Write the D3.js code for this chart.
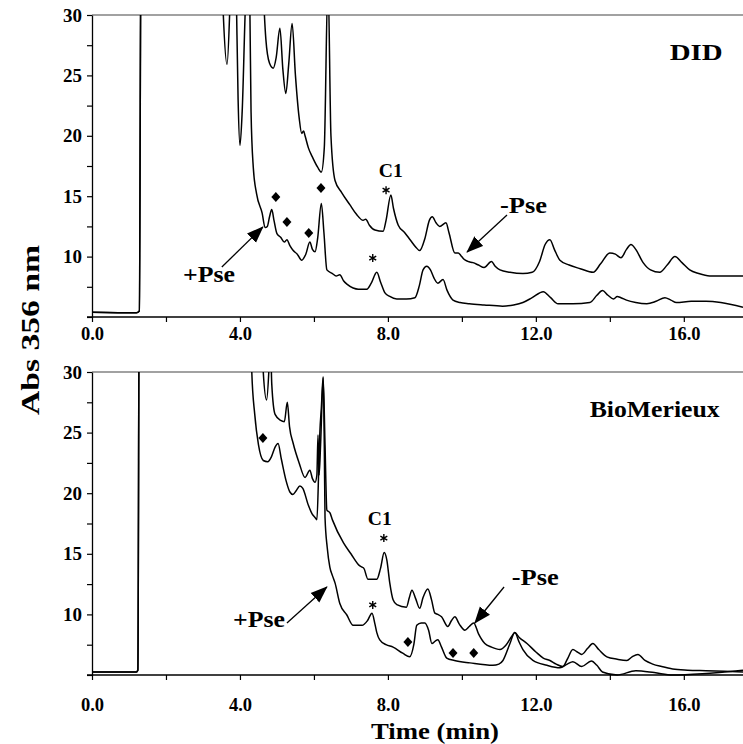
<!DOCTYPE html>
<html><head><meta charset="utf-8">
<script src="https://cdn.jsdelivr.net/npm/d3@7"></script>
<style>
body{margin:0;background:#fff}
svg text{font-family:"Liberation Serif","Times New Roman",serif;font-weight:bold;fill:#000}
</style>
</head><body><svg id="chart" width="743" height="744"></svg>
<script>
// ---------- data ----------
const timeDomain = [0, 17.6];
const absDomain = [5, 30];
const xTickValues = [0, 2, 4, 6, 8, 10, 12, 14, 16];
const xTickLabels = ["0.0", "", "4.0", "", "8.0", "", "12.0", "", "16.0"];
const yTickValues = [5, 7.5, 10, 12.5, 15, 17.5, 20, 22.5, 25, 27.5, 30];
const yTickLabels = ["", "", "10", "", "15", "", "20", "", "25", "", "30"];

// DID panel, -Pse trace [time (min), Abs]
const didMinusPse = [[0,5.4],[1.2,5.35],[1.28,5.5],[1.33,40],[3.45,40],[3.55,30],[3.65,25.9],[3.72,30],[3.8,40],[4.55,40],[4.62,33],[4.7,28],[4.8,26],[4.9,25.6],[4.98,26.5],[5.08,28.9],[5.16,25.5],[5.24,23.5],[5.32,26],[5.41,29.3],[5.5,25],[5.6,21.5],[5.67,20.2],[5.72,20.4],[5.76,20.0],[5.85,19.0],[5.95,18.3],[6.1,17.4],[6.2,17.0],[6.28,19],[6.38,33],[6.46,20],[6.57,16.3],[6.75,15.3],[6.97,14.3],[7.15,13.5],[7.33,13.0],[7.4,13.1],[7.5,12.6],[7.65,12.2],[7.87,12.1],[7.95,13],[8.08,15.1],[8.15,14],[8.28,12.6],[8.45,12.0],[8.6,11.4],[8.75,10.8],[8.86,10.5],[9.0,11.5],[9.12,13.0],[9.2,13.3],[9.3,12.8],[9.4,12.5],[9.57,12.8],[9.65,12],[9.81,10.3],[9.9,10.3],[9.97,10.1],[10.05,9.8],[10.16,9.6],[10.3,9.5],[10.45,9.3],[10.6,9.1],[10.8,9.6],[10.9,9.2],[11.03,8.9],[11.3,8.7],[11.65,8.6],[11.9,8.7],[12.1,9.6],[12.25,11.0],[12.38,11.4],[12.5,10.6],[12.65,9.7],[12.9,9.3],[13.2,9.0],[13.55,8.7],[13.75,9.4],[14.0,10.3],[14.15,10.2],[14.3,9.9],[14.45,10.6],[14.57,11.0],[14.7,10.6],[14.9,9.5],[15.1,8.9],[15.35,8.7],[15.55,9.3],[15.76,10.0],[15.95,9.5],[16.16,8.9],[16.4,8.6],[16.7,8.4],[17.6,8.4]];

// DID panel, +Pse trace
const didPlusPse = [[0,5.4],[1.2,5.35],[1.28,5.5],[1.33,40],[3.85,40],[3.9,32],[3.95,23],[4.0,19.2],[4.06,22],[4.15,31],[4.22,35],[4.27,30],[4.3,22],[4.36,17.4],[4.45,15.2],[4.6,13.6],[4.68,12.4],[4.74,12.5],[4.8,13.3],[4.86,13.9],[4.92,13.0],[5.0,11.9],[5.1,11.6],[5.2,11.2],[5.27,11.4],[5.35,10.9],[5.44,10.5],[5.55,10.2],[5.67,9.7],[5.78,10.2],[5.89,11.2],[5.96,10.6],[6.03,10.4],[6.1,11.5],[6.2,14.4],[6.27,12],[6.35,8.9],[6.5,8.6],[6.6,8.4],[6.7,8.5],[6.8,8.0],[6.9,7.7],[7.06,7.4],[7.2,7.3],[7.43,7.3],[7.55,7.8],[7.7,8.7],[7.8,7.9],[7.92,7.0],[8.05,6.7],[8.24,6.5],[8.5,6.5],[8.73,6.6],[8.85,7.6],[8.95,8.9],[9.05,9.2],[9.15,8.9],[9.25,8.2],[9.35,7.8],[9.49,8.1],[9.6,7.2],[9.76,6.4],[9.95,6.2],[10.2,6.1],[10.6,6.0],[11.1,5.9],[11.4,6.0],[11.65,6.2],[11.9,6.6],[12.2,7.1],[12.4,6.6],[12.6,6.1],[13.0,6.1],[13.46,6.2],[13.65,6.8],[13.8,7.2],[13.95,6.8],[14.1,6.5],[14.2,6.7],[14.3,6.6],[14.45,6.4],[14.7,6.2],[15.0,6.1],[15.25,6.3],[15.49,6.6],[15.65,6.4],[15.8,6.2],[16.2,6.3],[16.6,6.3],[17.0,6.2],[17.6,5.8]];

// BioMerieux panel, -Pse trace
const bioMinusPse = [[0,5.25],[1.2,5.25],[1.24,5.4],[1.28,40],[4.55,40],[4.63,30],[4.72,27.7],[4.78,30],[4.82,33],[4.86,29],[4.95,26.5],[5.1,26.0],[5.2,25.9],[5.28,27.5],[5.34,25.5],[5.44,24.1],[5.6,22.5],[5.76,21.3],[5.89,21.9],[5.96,21.2],[6.03,20.9],[6.08,21.5],[6.11,24.8],[6.14,21.5],[6.18,24],[6.25,29.5],[6.3,24],[6.35,18.6],[6.43,18.4],[6.5,17.8],[6.8,15.9],[7.0,15.0],[7.24,14.0],[7.3,13.9],[7.35,13.8],[7.46,12.9],[7.7,12.9],[7.8,13.8],[7.9,15.1],[7.97,14.5],[8.05,12.6],[8.14,11.2],[8.24,10.8],[8.5,10.6],[8.58,11.4],[8.65,12.0],[8.75,11.3],[8.86,10.5],[8.95,11.4],[9.08,12.1],[9.18,11.2],[9.27,10.1],[9.35,10.0],[9.45,9.8],[9.62,9.0],[9.72,9.5],[9.81,9.8],[9.93,9.2],[10.08,8.7],[10.2,9.0],[10.32,9.3],[10.45,8.4],[10.62,7.6],[10.8,7.3],[11.03,7.1],[11.2,7.5],[11.35,8.2],[11.43,8.5],[11.55,8.1],[11.76,7.6],[12.0,6.9],[12.2,6.4],[12.38,6.2],[12.55,5.9],[12.73,5.7],[12.85,6.3],[13.0,7.1],[13.12,6.9],[13.24,6.7],[13.4,7.2],[13.54,7.6],[13.7,7.1],[13.92,6.5],[14.2,6.3],[14.46,6.2],[14.6,6.5],[14.76,6.7],[14.95,6.2],[15.16,5.9],[15.4,5.7],[15.7,5.5],[16.1,5.4],[16.6,5.35],[17.6,5.25]];

// BioMerieux panel, +Pse trace
const bioPlusPse = [[0,5.25],[1.2,5.25],[1.24,5.4],[1.28,40],[4.25,40],[4.32,30],[4.4,26.5],[4.5,24],[4.63,22.7],[4.75,22.6],[4.85,23],[4.95,23.8],[5.03,24.1],[5.12,22.8],[5.25,21.0],[5.35,20.1],[5.43,19.9],[5.52,20.2],[5.62,20.6],[5.7,20.4],[5.85,19],[5.95,18.3],[6.03,18.0],[6.08,17.8],[6.13,22],[6.16,25],[6.2,27],[6.25,29.6],[6.28,24],[6.3,18.0],[6.36,15.5],[6.43,13.9],[6.5,13.2],[6.57,12.6],[6.7,10.9],[6.89,9.95],[7.06,9.1],[7.3,9.1],[7.45,9.5],[7.57,10.1],[7.65,9.2],[7.7,8.5],[7.78,7.9],[7.95,7.5],[8.14,7.3],[8.4,6.8],[8.59,6.5],[8.7,7.5],[8.78,9.1],[8.9,9.3],[9.0,9.3],[9.1,8.7],[9.19,7.6],[9.28,7.8],[9.35,7.9],[9.45,7.3],[9.59,6.4],[9.8,6.2],[10.22,6.0],[10.84,5.8],[11.0,5.9],[11.11,6.2],[11.3,7.6],[11.43,8.5],[11.55,7.7],[11.65,7.1],[11.92,6.2],[12.3,5.8],[12.65,5.6],[12.85,5.9],[13.0,6.1],[13.24,5.7],[13.5,6.15],[13.65,5.8],[13.8,5.25],[14.2,5.0],[14.7,5.35],[15.2,5.2],[15.7,5.0],[16.5,5.1],[17.6,5.4]];

// annotation marks (time, Abs)
const didDiamonds = [[4.97,14.93],[5.27,12.86],[5.86,11.95],[6.19,15.68]];
const didStars = [[7.95,15.5],[7.59,9.88]];
const didArrows = [[[3.51,9.14],[4.62,12.45]],[[11.22,13.44],[10.14,10.38]]];
const didLabels = [["DID",17.05,26.27],["C1",8.08,16.59],["-Pse",11.03,13.61],["+Pse",2.46,7.90]];
const bioDiamonds = [[4.62,24.55],[8.54,7.72],[9.76,6.82],[10.32,6.82]];
const bioStars = [[7.89,16.3],[7.59,10.78]];
const bioArrows = [[[5.27,9.29],[6.35,12.26]],[[11.14,12.26],[10.35,9.29]]];
const bioLabels = [["BioMerieux",16.97,26.29],["C1",7.78,17.38],["-Pse",11.35,12.43],["+Pse",3.81,8.96]];

// ---------- layout / style ----------
const svg = d3.select("#chart");
const left = 92, right = 743;
const labelStyle = {
  "DID": {anchor:"end", size:24, len:53},
  "BioMerieux": {anchor:"end", size:23, len:130},
  "C1": {anchor:"middle", size:19, len:24},
  "-Pse": {anchor:"start", size:23, len:47},
  "+Pse": {anchor:"start", size:23, len:52}
};

const defs = svg.append("defs");
defs.append("marker").attr("id","arrowhead").attr("markerUnits","userSpaceOnUse")
  .attr("viewBox","0 -7 17 14").attr("refX",16).attr("refY",0)
  .attr("markerWidth",17).attr("markerHeight",14).attr("orient","auto")
  .append("path").attr("d","M0,-6.5L17,0L0,6.5Z").attr("fill","#000");

const panels = [
  {id:"did", top:15, bottom:317, labelBase:23, minus:didMinusPse, plus:didPlusPse,
   diamonds:didDiamonds, stars:didStars, arrows:didArrows, labels:didLabels},
  {id:"bio", top:372, bottom:675, labelBase:36, minus:bioMinusPse, plus:bioPlusPse,
   diamonds:bioDiamonds, stars:bioStars, arrows:bioArrows, labels:bioLabels}
];

function asteriskPath(cx, cy, r) {
  let d = "";
  for (let k = 0; k < 3; k++) {
    const a = Math.PI / 2 + k * Math.PI / 3;
    const dx = r * Math.cos(a), dy = r * Math.sin(a);
    d += `M${cx-dx},${cy-dy}L${cx+dx},${cy+dy}`;
  }
  return d;
}

panels.forEach(p => {
  const x = d3.scaleLinear().domain(timeDomain).range([left, right]);
  const y = d3.scaleLinear().domain(absDomain).range([p.bottom, p.top]);
  const g = svg.append("g");

  defs.append("clipPath").attr("id","clip-"+p.id)
    .append("rect").attr("x",left).attr("y",p.top).attr("width",right-left).attr("height",p.bottom-p.top+1);

  // frame top line
  g.append("line").attr("x1",left).attr("x2",right).attr("y1",p.top).attr("y2",p.top)
    .attr("stroke","#444").attr("stroke-width",1.2);

  // x axis
  const xa = g.append("g").attr("transform",`translate(0,${p.bottom})`)
    .call(d3.axisBottom(x).tickValues(xTickValues).tickSize(5).tickSizeOuter(0)
      .tickFormat((d,i)=>xTickLabels[i]));
  xa.select(".domain").attr("d",`M${left-5},0H${right}`).attr("stroke-width",1.3);
  xa.selectAll(".tick line").attr("stroke-width",1.2);
  xa.selectAll("text").attr("y",p.labelBase).attr("dy","0").style("font-size","18.5px");

  // y axis
  const ya = g.append("g").attr("transform",`translate(${left},0)`)
    .call(d3.axisLeft(y).tickValues(yTickValues).tickSize(5).tickSizeOuter(0)
      .tickFormat((d,i)=>yTickLabels[i]));
  ya.select(".domain").attr("stroke-width",1.3);
  ya.selectAll(".tick line").attr("stroke-width",1.2);
  ya.selectAll("text").attr("x",-10).style("font-size","19px");

  // traces
  const line = d3.line().x(d=>x(d[0])).y(d=>y(d[1])).curve(d3.curveMonotoneX);
  const traces = g.append("g").attr("clip-path",`url(#clip-${p.id})`);
  [p.minus, p.plus].forEach(s => {
    traces.append("path").datum(s).attr("d",line).attr("fill","none")
      .attr("stroke","#000").attr("stroke-width",1.5).attr("stroke-linejoin","round");
  });

  // diamonds
  g.selectAll(".dia").data(p.diamonds).join("path")
    .attr("d", d => { const cx=x(d[0]), cy=y(d[1]); return `M${cx},${cy-5}L${cx+4.5},${cy}L${cx},${cy+5}L${cx-4.5},${cy}Z`; })
    .attr("fill","#000");

  // stars
  g.selectAll(".star").data(p.stars).join("path")
    .attr("d", d => asteriskPath(x(d[0]), y(d[1]), 4))
    .attr("stroke","#000").attr("stroke-width",1.4).attr("fill","none");

  // arrows
  g.selectAll(".arrow").data(p.arrows).join("line")
    .attr("x1",d=>x(d[0][0])).attr("y1",d=>y(d[0][1]))
    .attr("x2",d=>x(d[1][0])).attr("y2",d=>y(d[1][1]))
    .attr("stroke","#000").attr("stroke-width",1.3).attr("marker-end","url(#arrowhead)");

  // labels
  g.selectAll(".lab").data(p.labels).join("text")
    .attr("x",d=>x(d[1])).attr("y",d=>y(d[2]))
    .attr("text-anchor",d=>labelStyle[d[0]].anchor)
    .style("font-size",d=>labelStyle[d[0]].size+"px")
    .attr("textLength",d=>labelStyle[d[0]].len).attr("lengthAdjust","spacingAndGlyphs")
    .text(d=>d[0]);
});

// axis titles
svg.append("text").attr("transform","translate(39,330) rotate(-90)")
  .attr("text-anchor","middle").style("font-size","25px")
  .attr("textLength",170).attr("lengthAdjust","spacingAndGlyphs").text("Abs 356 nm");
svg.append("text").attr("x",435).attr("y",739).attr("text-anchor","middle")
  .style("font-size","24px").attr("textLength",128).attr("lengthAdjust","spacingAndGlyphs")
  .text("Time (min)");
</script>
</body></html>
